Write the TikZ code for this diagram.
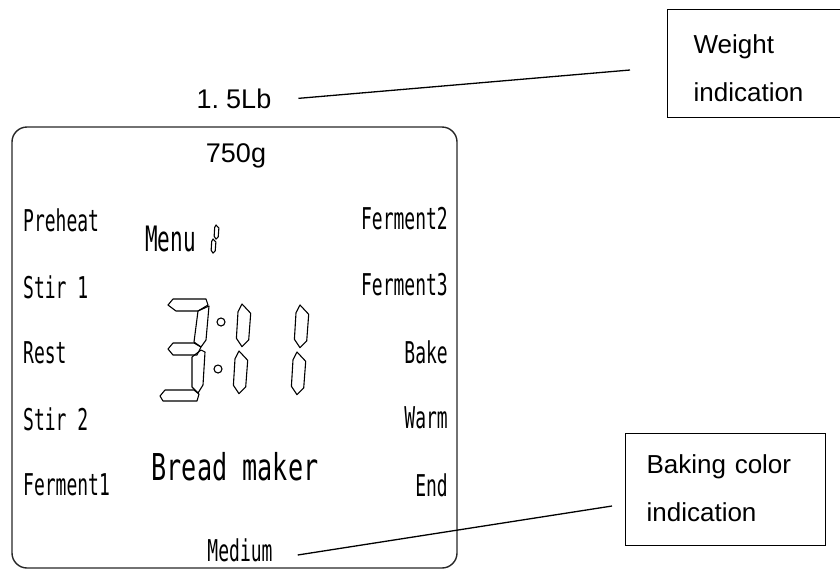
\documentclass[tikz,border=0pt]{standalone}
\usepackage{fontspec}
\setmainfont{Liberation Sans}
\newfontfamily\lcd[FakeStretch=0.6]{DejaVu Sans Mono}
\newfontfamily\lcdwide[FakeStretch=0.68]{DejaVu Sans Mono}
\tikzset{
  segline/.style={line width=1.1pt, line join=round},
  lcdlabel/.style={inner sep=0pt, font=\lcd\fontsize{30}{32}\selectfont},
  infobox/.style={draw, line width=1.2pt, align=left, inner sep=0pt, font=\fontsize{26}{48}\selectfont},
  leader/.style={line width=1.3pt},
  vseg/.pic={\draw[segline] (0,0) -- (8.7,9.3) -- (6.7,36) -- (0,42.7) -- (-5.6,34.3) -- (-4,7.7) -- cycle;},
}
\begin{document}
\begin{tikzpicture}[x=1pt, y=-1pt]
  \useasboundingbox (0,0) rectangle (840,571);
  % display panel
  \draw[line width=1.4pt, black!85, rounded corners=15pt] (12,127) rectangle (457,568);
  \node[anchor=base, inner sep=0pt, font=\fontsize{27}{30}\selectfont] (lb) at (234,108) {1.\hspace{7pt}5Lb};
  \node[anchor=base, inner sep=0pt, font=\fontsize{27}{30}\selectfont] (gram) at (236,162) {750g};
  % program steps
  \foreach \t/\y [count=\i] in {Preheat/220, Stir 1/287, Rest/353, Stir 2/419, Ferment1/485}
    \node[lcdlabel, anchor=west] (l\i) at (23,\y) {\t};
  \foreach \t/\y [count=\i] in {Ferment2/219, Ferment3/285, Bake/352, Warm/418, End/485}
    \node[lcdlabel, anchor=east] (r\i) at (448,\y) {\t};
  \node[lcdlabel, anchor=west, font=\lcd\fontsize{35}{36}\selectfont] (menu) at (145,239) {Menu};
  \pic[scale=0.33] at (216,225) {vseg};
  \pic[scale=0.33] at (213,239) {vseg};
  % time digits
  \draw[segline] (168,305) -- (173,299) -- (206,299) -- (208,305) -- (198,311) -- (176,311) -- cycle;
  \draw[segline] (198,311) -- (209,306) -- (206,340) -- (201,347) -- (194,342) -- cycle;
  \draw[segline] (168,349) -- (173,343) -- (194,343) -- (201,347) -- (197,355) -- (173,355) -- cycle;
  \draw[segline] (201,350) -- (205,352) -- (203,385) -- (198,393) -- (192,387) -- (192,357) -- cycle;
  \draw[segline] (160,396) -- (165,390) -- (194,390) -- (199,394) -- (197,401) -- (163,401) -- cycle;
  \foreach \x/\y in {242/304, 239/351, 300/305, 297/352} \pic at (\x,\y) {vseg};
  \foreach \x/\y in {221/322, 218/369} \draw[segline] (\x,\y) circle (4pt);
  \node[lcdlabel, font=\lcdwide\fontsize{37}{38}\selectfont] (brand) at (235,467) {Bread maker};
  \node[lcdlabel] (med) at (240,550) {Medium};
  % callouts
  \node[infobox, anchor=north west, inner xsep=26pt, text width=152pt, minimum height=108pt, text height=28pt] (wbox) at (667,9) {Weight\\indication};
  \node[infobox, anchor=south west, inner xsep=21pt, text width=158pt, minimum height=112pt, text height=16pt] (cbox) at (625,546) {Baking color\\indication};
  \coordinate (wend) at (630,70);
  \coordinate (cend) at (612,506);
  \draw[leader] (lb.east) ++(27,0) -- (wend);
  \draw[leader] (med.east) ++(25,5) -- (cend);
\end{tikzpicture}
\end{document}
